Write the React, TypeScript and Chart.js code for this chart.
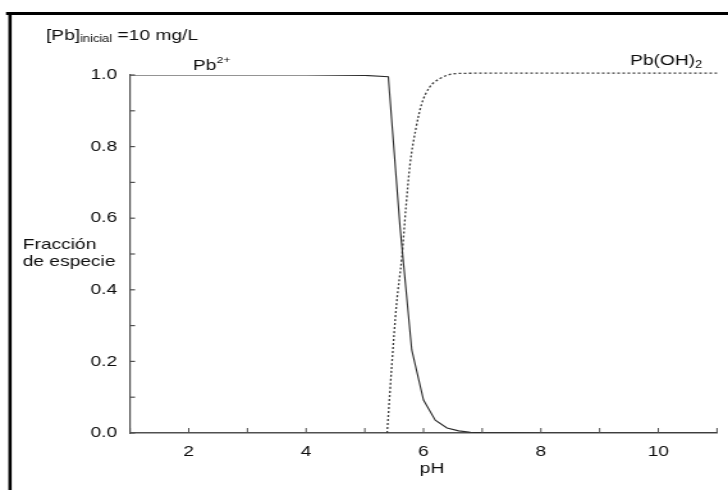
import React, { useEffect, useRef } from 'react';
import { Chart, registerables } from 'chart.js';

Chart.register(...registerables);

// ---- data ----
const pb2PH = [1, 2, 3, 4, 5, 5.4, 5.6, 5.8, 6.0, 6.2, 6.4, 6.6, 6.8, 7.0, 8, 9, 10, 11];
const pb2Frac = [1, 1, 1, 1, 0.999, 0.995, 0.575, 0.232, 0.092, 0.036, 0.014, 0.006, 0.002, 0.001, 0, 0, 0, 0];
const pbOH2PH = [5.38, 5.46, 5.54, 5.63, 5.7, 5.77, 5.87, 5.97, 6.1, 6.28, 6.55, 7, 8, 9, 10, 11];
const pbOH2Frac = [0, 0.19, 0.36, 0.49, 0.63, 0.75, 0.85, 0.92, 0.965, 0.99, 1.004, 1.005, 1.005, 1.005, 1.005, 1.005];

const xTickLabels = [2, 4, 6, 8, 10];
const xTickMarks = [1, 2, 3, 4, 5, 6, 7, 8, 9, 10, 11];
const yTickLabels = [0, 0.2, 0.4, 0.6, 0.8, 1.0];
const yTickMarks = [0, 0.1, 0.2, 0.3, 0.4, 0.5, 0.6, 0.7, 0.8, 0.9, 1.0];

const xTitle = 'pH';
const yTitleLines = ['Fracción', 'de especie'];
const headerMain = '[Pb]';
const headerSub = 'inicial';
const headerRest = ' =10 mg/L';
const pb2Name = 'Pb';
const pb2Sup = '2+';
const pbOH2Name = 'Pb(OH)';
const pbOH2Sub = '2';

// ---- geometry ----
const CSS_W = 728;
const CSS_H = 490;
const W = 569; // internal width; canvas is stretched horizontally like the reference
const S = CSS_W / W;
const FONT = "'Liberation Sans', Arial, Helvetica, sans-serif";
const FS = 15;
const TEXT = '#0d0d0d';
const AXIS = '#505050';

type Run = { text: string; size: number; dy: number };

function drawRuns(ctx: CanvasRenderingContext2D, x: number, y: number, runs: Run[]) {
  let cx = x;
  for (const r of runs) {
    ctx.font = `${r.size}px ${FONT}`;
    ctx.fillText(r.text, cx, y + r.dy);
    cx += ctx.measureText(r.text).width;
  }
}

const decor = {
  id: 'decor',
  afterDraw(chart: any) {
    const { ctx, chartArea, scales } = chart;
    const xs = scales.x;
    const ys = scales.y;
    ctx.save();
    // inward tick marks
    ctx.strokeStyle = AXIS;
    ctx.lineWidth = 1;
    for (const v of xTickMarks) {
      const px = xs.getPixelForValue(v);
      ctx.beginPath();
      ctx.moveTo(px, chartArea.bottom);
      ctx.lineTo(px, chartArea.bottom - 5);
      ctx.stroke();
    }
    ctx.lineWidth = 1.2;
    for (const v of yTickMarks) {
      const py = ys.getPixelForValue(v);
      ctx.beginPath();
      ctx.moveTo(chartArea.left, py);
      ctx.lineTo(chartArea.left + 5 / S, py);
      ctx.stroke();
    }

    // texts
    ctx.fillStyle = TEXT;
    ctx.textBaseline = 'alphabetic';
    ctx.textAlign = 'left';
    drawRuns(ctx, 46 / S, 39.5, [
      { text: headerMain, size: FS, dy: 0 },
      { text: headerSub, size: 10, dy: 2 },
      { text: headerRest, size: FS, dy: 0 },
    ]);
    drawRuns(ctx, 193 / S, 69.5, [
      { text: pb2Name, size: FS, dy: 0 },
      { text: pb2Sup, size: 9.5, dy: -7 },
    ]);
    drawRuns(ctx, 630 / S, 65, [
      { text: pbOH2Name, size: FS, dy: 0 },
      { text: pbOH2Sub, size: 10, dy: 3 },
    ]);
    ctx.font = `${FS}px ${FONT}`;
    ctx.fillText(yTitleLines[0], 22.7 / S, 248.5);
    ctx.fillText(yTitleLines[1], 22.7 / S, 266);
    ctx.textAlign = 'center';
    ctx.fillText(xTitle, 432 / S, 473);

    // outer frame (cropped at right and bottom)
    ctx.strokeStyle = '#000';
    ctx.lineWidth = 3;
    ctx.beginPath();
    ctx.moveTo(6 / S, 13.5);
    ctx.lineTo(W + 2, 13.5);
    ctx.stroke();
    ctx.lineWidth = 3.3 / S;
    ctx.beginPath();
    ctx.moveTo(10 / S, 12);
    ctx.lineTo(10 / S, CSS_H + 2);
    ctx.stroke();
    ctx.restore();
  },
};

export default function App() {
  const ref = useRef<HTMLCanvasElement | null>(null);

  useEffect(() => {
    const canvas = ref.current;
    if (!canvas) return;
    const tickFont = { family: FONT, size: FS };
    const chart = new Chart(canvas, {
      type: 'line',
      data: {
        datasets: [
          {
            label: 'Pb2+',
            data: pb2PH.map((x, i) => ({ x, y: pb2Frac[i] })),
            borderColor: '#2a2a2a',
            borderWidth: 1.1,
            pointRadius: 0,
            tension: 0,
            fill: false,
          },
          {
            label: 'Pb(OH)2',
            data: pbOH2PH.map((x, i) => ({ x, y: pbOH2Frac[i] })),
            borderColor: '#3a3a3a',
            borderWidth: 1.3,
            borderDash: [2, 2],
            pointRadius: 0,
            cubicInterpolationMode: 'monotone',
            fill: false,
            clip: false,
          },
        ],
      } as any,
      options: {
        responsive: false,
        animation: false,
        events: [],
        layout: { padding: { left: 0, top: 75, right: W - 717 / S, bottom: 0 } },
        plugins: {
          legend: { display: false },
          tooltip: { enabled: false },
          title: { display: false },
        },
        scales: {
          x: {
            type: 'linear',
            min: 1,
            max: 11,
            grid: { display: false, drawTicks: false },
            border: { display: true, color: AXIS, width: 1.5 },
            ticks: { font: tickFont, color: TEXT, padding: 10, maxRotation: 0, autoSkip: false },
            afterBuildTicks: (s: any) => {
              s.ticks = xTickLabels.map((v) => ({ value: v }));
            },
            afterFit: (s: any) => {
              s.height = CSS_H - 433;
            },
          },
          y: {
            type: 'linear',
            min: 0,
            max: 1,
            grid: { display: false, drawTicks: false },
            border: { display: true, color: AXIS, width: 1.2 },
            ticks: {
              font: tickFont,
              color: TEXT,
              padding: 10,
              autoSkip: false,
              callback: (v: any) => Number(v).toFixed(1),
            },
            afterBuildTicks: (s: any) => {
              s.ticks = yTickLabels.map((v) => ({ value: v }));
            },
            afterFit: (s: any) => {
              s.width = 130 / S;
            },
          },
        },
      } as any,
      plugins: [decor],
    });
    return () => chart.destroy();
  }, []);

  return (
    <div style={{ position: 'fixed', left: 0, top: 0, width: CSS_W, height: CSS_H, overflow: 'hidden', background: '#fff' }}>
      <canvas
        ref={ref}
        width={W}
        height={CSS_H}
        style={{ width: `${CSS_W}px`, height: `${CSS_H}px`, display: 'block' }}
      />
    </div>
  );
}
